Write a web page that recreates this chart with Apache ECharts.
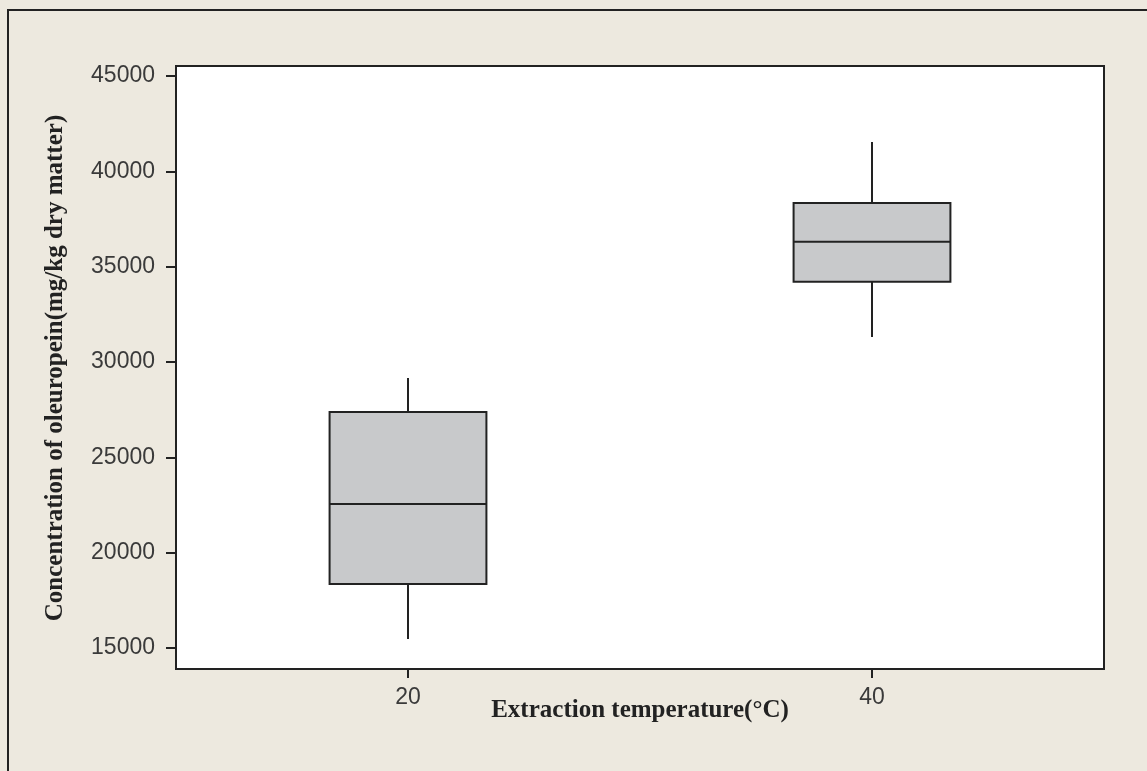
<!DOCTYPE html>
<html>
<head>
<meta charset="utf-8">
<script src="https://cdn.jsdelivr.net/npm/echarts@6/dist/echarts.min.js"></script>
<style>
  html, body { margin: 0; padding: 0; background: #EDE9DF; }
  #chart { width: 1147px; height: 771px; }
</style>
</head>
<body>
<div id="chart"></div>
<script>
// Extraction temperatures (°C) on the x axis
const categories = ['20', '40'];
// Box statistics per temperature: [low whisker, Q1, median, Q3, high whisker]
const lowWhisker = [15470, 31310];
const q1Values = [18360, 34200];
const medianValues = [22550, 36300];
const q3Values = [27380, 38340];
const highWhisker = [29160, 41540];
// Y axis tick labels
const yTicks = [15000, 20000, 25000, 30000, 35000, 40000, 45000];

const boxData = categories.map((c, i) => [i, lowWhisker[i], q1Values[i], medianValues[i], q3Values[i], highWhisker[i]]);

const chart = echarts.init(document.getElementById('chart'), null, { renderer: 'canvas' });

// Draws one box: whiskers without end caps, filled box, median line
function renderBox(params, api) {
  const idx = api.value(0);
  const low = api.coord([idx, api.value(1)]);
  const q1 = api.coord([idx, api.value(2)]);
  const med = api.coord([idx, api.value(3)]);
  const q3 = api.coord([idx, api.value(4)]);
  const high = api.coord([idx, api.value(5)]);
  const bandW = api.size([1, 0])[0];
  const w = bandW * 0.338;
  const cx = low[0];
  const left = cx - w / 2;
  const lineStyle = { stroke: '#222', lineWidth: 2, fill: null };
  return {
    type: 'group',
    children: [
      { type: 'line', shape: { x1: cx, y1: high[1], x2: cx, y2: q3[1] }, style: lineStyle },
      { type: 'line', shape: { x1: cx, y1: q1[1], x2: cx, y2: low[1] }, style: lineStyle },
      { type: 'rect', shape: { x: left, y: q3[1], width: w, height: q1[1] - q3[1] },
        style: { fill: '#C8C9CB', stroke: '#222', lineWidth: 2 } },
      { type: 'line', shape: { x1: left, y1: med[1], x2: left + w, y2: med[1] }, style: lineStyle }
    ]
  };
}

chart.setOption({
  backgroundColor: '#EDE9DF',
  animation: false,
  grid: {
    left: 176, top: 66, right: 43, bottom: 102,
    show: true, backgroundColor: '#ffffff', borderColor: '#222', borderWidth: 2
  },
  xAxis: {
    type: 'category',
    data: categories,
    boundaryGap: true,
    axisLine: { show: true, lineStyle: { color: '#222', width: 2 } },
    axisTick: { show: true, alignWithLabel: true, length: 9, lineStyle: { color: '#222', width: 2 } },
    axisLabel: { margin: 17, fontSize: 23, color: '#3a3a3a', fontFamily: 'Liberation Sans' },
    splitLine: { show: false }
  },
  yAxis: {
    type: 'value',
    min: 13900,
    max: 45520,
    axisLine: { show: true, lineStyle: { color: '#222', width: 2 } },
    axisTick: { show: true, length: 10, customValues: yTicks, lineStyle: { color: '#222', width: 2 } },
    axisLabel: {
      margin: 21, fontSize: 23, color: '#3a3a3a', fontFamily: 'Liberation Sans',
      customValues: yTicks,
      formatter: v => String(v)
    },
    splitLine: { show: false }
  },
  series: [{
    type: 'custom',
    renderItem: renderBox,
    encode: { x: 0, y: [1, 2, 3, 4, 5] },
    data: boxData
  }],
  graphic: [
    {
      type: 'rect',
      shape: { x: 8, y: 10, width: 1300, height: 900 },
      style: { fill: null, stroke: '#222', lineWidth: 2 },
      silent: true, z: 100
    },
    {
      type: 'text',
      x: 640, y: 711,
      style: {
        text: 'Extraction temperature(°C)',
        font: 'bold 25px "Liberation Serif"',
        fill: '#222', align: 'center', verticalAlign: 'middle'
      }
    },
    {
      type: 'text',
      x: 56, y: 368,
      rotation: Math.PI / 2,
      style: {
        text: 'Concentration of oleuropein(mg/kg dry matter)',
        font: 'bold 25px "Liberation Serif"',
        fill: '#222', align: 'center', verticalAlign: 'middle'
      }
    }
  ]
});
</script>
</body>
</html>
